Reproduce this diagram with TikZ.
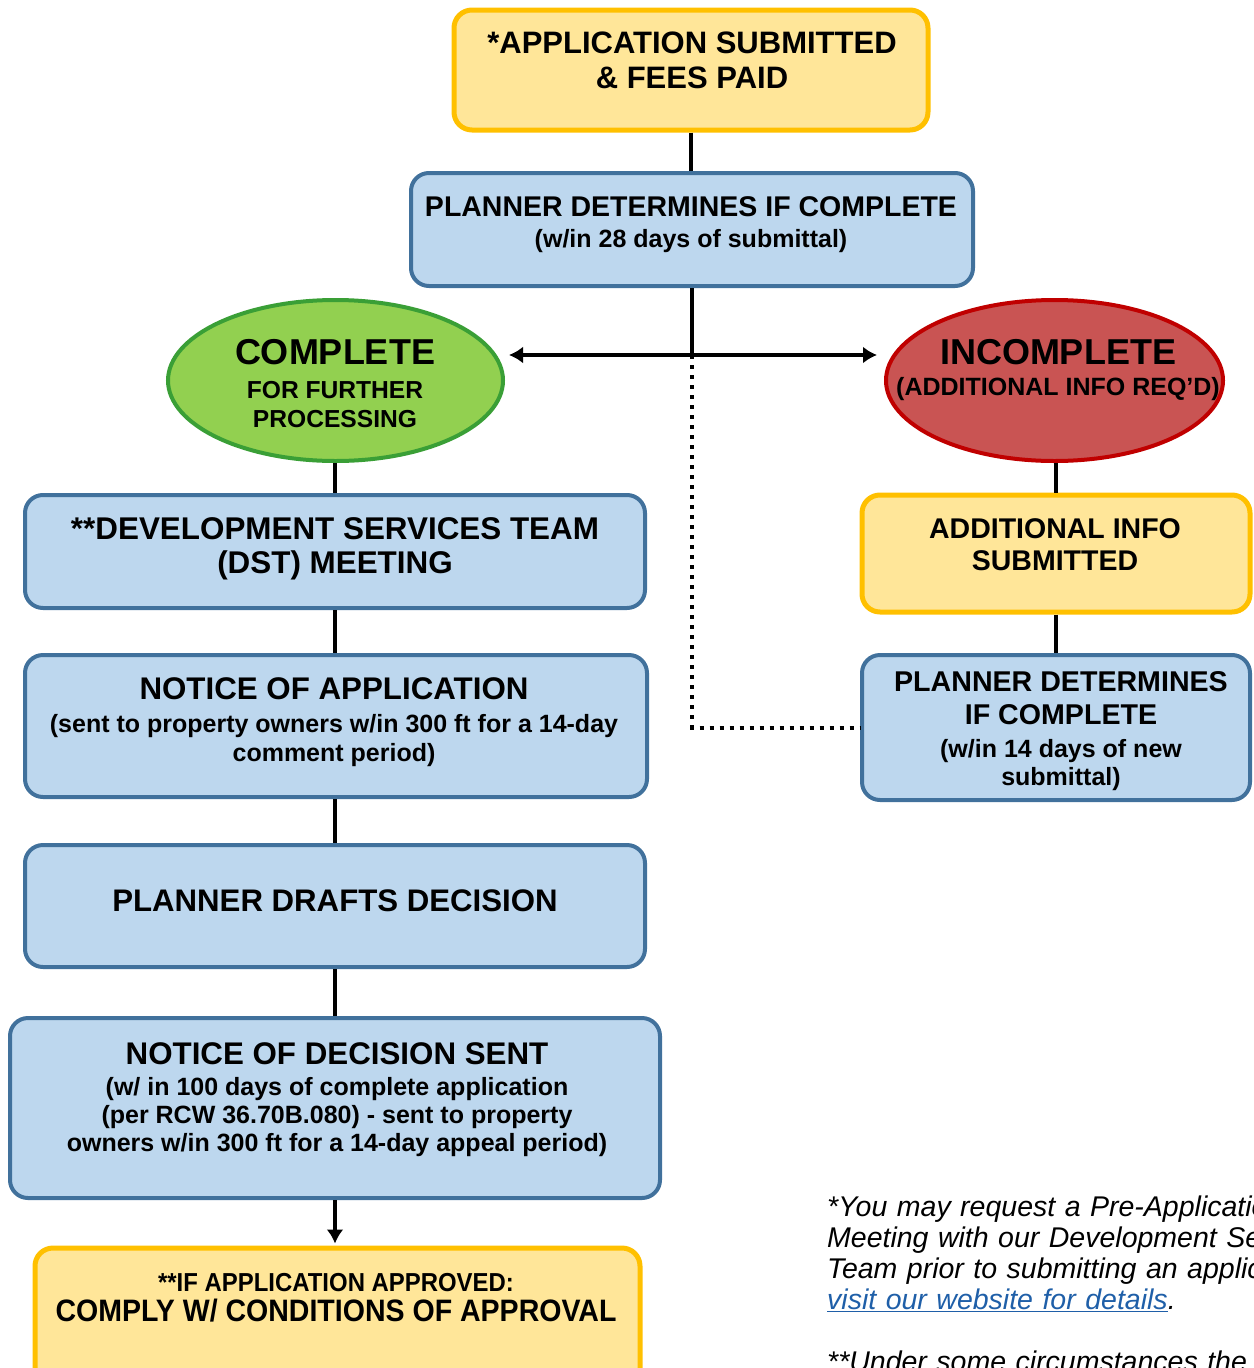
\documentclass[tikz,border=0pt]{standalone}
\usepackage{fontspec}
\setmainfont{Liberation Sans}
\newfontfamily\narrowsans{Liberation Sans}[FakeStretch=0.92]
\usetikzlibrary{shapes.geometric,arrows.meta}
\definecolor{yfill}{HTML}{FFE699}
\definecolor{yline}{HTML}{FFC000}
\definecolor{bfill}{HTML}{BDD7EE}
\definecolor{bline}{HTML}{41719C}
\definecolor{gfill}{HTML}{92D050}
\definecolor{gline}{HTML}{3A9F36}
\definecolor{rfill}{HTML}{C95453}
\definecolor{rline}{HTML}{C00000}
\definecolor{linkblue}{HTML}{1F5FA8}
\newcommand{\fs}[1]{\fontsize{#1}{#1}\selectfont}
\newcommand{\fsk}[2]{\fontsize{#1}{#2}\selectfont}
\tikzset{
  ybox/.style={draw=yline, fill=yfill, line width=5pt, rounded corners=18pt, inner sep=0pt},
  bbox/.style={draw=bline, fill=bfill, line width=4pt, rounded corners=18pt, inner sep=0pt},
  gell/.style={ellipse, draw=gline, fill=gfill, line width=4pt, inner sep=0pt},
  rell/.style={ellipse, draw=rline, fill=rfill, line width=4pt, inner sep=0pt},
  txt/.style={align=center, inner sep=0pt},
  conn/.style={line width=4.5pt},
  arr/.style={line width=4pt, -{Latex[length=14pt,width=17pt]}},
  dotline/.style={line width=4pt, dash pattern=on 4pt off 6pt},
}
\begin{document}
\begin{tikzpicture}[x=1pt,y=-1pt]
\useasboundingbox (0,0) rectangle (1253,1368);
\clip (0,0) rectangle (1253,1368);
% boxes
\node[ybox, minimum width=474pt, minimum height=120pt] (top) at (691,70) {};
\node[bbox, minimum width=562pt, minimum height=113pt] (plan) at (692,229.5) {};
\node[gell, minimum width=335pt, minimum height=161pt] (comp) at (335.5,380.5) {};
\node[rell, minimum width=337pt, minimum height=161pt] (incomp) at (1054.5,380.5) {};
\node[bbox, minimum width=620pt, minimum height=113pt] (dst) at (335,551.5) {};
\node[bbox, minimum width=622pt, minimum height=142pt] (noa) at (336,726) {};
\node[bbox, minimum width=620pt, minimum height=122pt] (draft) at (335,906) {};
\node[bbox, minimum width=650pt, minimum height=180pt] (nod) at (335,1108) {};
\node[ybox, minimum width=605pt, minimum height=140pt] (final) at (337.5,1318) {};
\node[ybox, minimum width=388pt, minimum height=117pt] (addl) at (1056,553.5) {};
\node[bbox, minimum width=388pt, minimum height=145pt] (plan2) at (1056,727.5) {};
% texts
\node[txt, font=\bfseries\fsk{31}{35}] (toptxt) at (692,60) {*APPLICATION SUBMITTED\\\& FEES PAID};
\node[txt, font=\bfseries\fsk{25}{31}] (plantxt) at (691,225) {{\fs{28.5}PLANNER DETERMINES IF COMPLETE}\\(w/in 28 days of submittal)};
\node[txt, font=\bfseries\fsk{24.6}{29}] (comptxt) at (335,384) {{\fs{36}COMPLETE}\\[5pt]FOR FURTHER\\PROCESSING};
\node[txt, font=\bfseries\fsk{25}{31}] (incomptxt) at (1058,370) {{\fs{36}INCOMPLETE}\\(ADDITIONAL INFO REQ'D)};
\node[txt, font=\bfseries\fsk{31.4}{34}] (dsttxt) at (335,549) {**DEVELOPMENT SERVICES TEAM\\(DST) MEETING};
\node[txt, font=\bfseries\fsk{25}{29}] (noatxt) at (334,722) {{\fs{31.3}NOTICE OF APPLICATION}\\[4pt](sent to property owners w/in 300 ft for a 14-day\\comment period)};
\node[txt, font=\bfseries\fs{31.2}] (drafttxt) at (335,901) {PLANNER DRAFTS DECISION};
\node[txt, font=\bfseries\fsk{25}{28}] (nodtxt) at (337,1100) {{\fs{31.3}NOTICE OF DECISION SENT}\\[3pt](w/ in 100 days of complete application\\(per RCW 36.70B.080) - sent to property\\owners w/in 300 ft for a 14-day appeal period)};
\node[txt, font=\narrowsans\bfseries\fsk{26}{30}] (finaltxt) at (336,1297.5) {**IF APPLICATION APPROVED:\\{\fs{31}COMPLY W/ CONDITIONS OF APPROVAL}};
\node[txt, font=\bfseries\fsk{28.5}{32}] (addltxt) at (1055,545) {ADDITIONAL INFO\\SUBMITTED};
\node[txt, font=\bfseries\fsk{25}{28}] (plan2txt) at (1061,731) {{\fs{28.6}PLANNER DETERMINES}\\[5pt]{\fs{28.6}IF COMPLETE}\\[5pt](w/in 14 days of new\\submittal)};
% footnote
\node[anchor=north west, align=left, inner sep=0pt, font=\itshape\fsk{28.5}{31}, text width=700pt] (note) at (827,1196)
  {*You may request a Pre-Application\\
   Meeting with our Development Services\\
   Team prior to submitting an application;\\
   {\color{linkblue}\underline{visit our website for details}}.\\
   \mbox{}\\{}
   **Under some circumstances the};
% connectors
\coordinate (split) at (692,355);
\draw[conn] (top.south) -- (top.south |- plan.north);
\draw[conn] (plan.south) -- (split);
\draw[arr, shorten >=4pt] (split) -- (split -| comp.east);
\draw[arr, shorten >=7pt] (split) -- (split -| incomp.west);
\draw[dotline] (split) -- (split |- plan2.west) -- (plan2.west);
\draw[conn] (dst.north |- comp.south) -- (dst.north);
\draw[conn] (dst.south) -- (dst.south |- noa.north);
\draw[conn] (dst.south |- noa.south) -- (dst.south |- draft.north);
\draw[conn] (draft.south) -- (draft.south |- nod.north);
\draw[arr, shorten >=2pt] (draft.south |- nod.south) -- (draft.south |- final.north);
\draw[conn] (addl.north |- incomp.south) -- (addl.north);
\draw[conn] (addl.south) -- (plan2.north);
\end{tikzpicture}
\end{document}
